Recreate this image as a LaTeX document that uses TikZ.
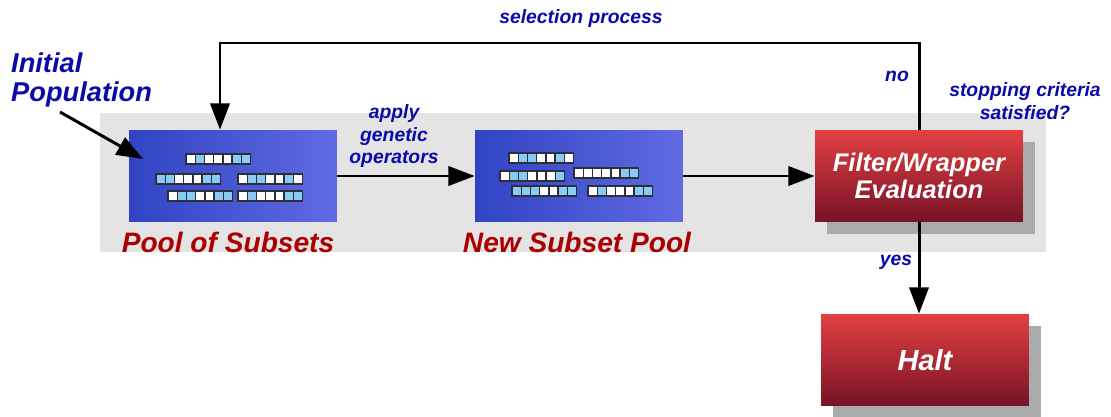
\documentclass[tikz,border=0pt]{standalone}
\usepackage{fontspec}
\setmainfont{Liberation Sans}
\usetikzlibrary{arrows.meta,shadows}
\usepackage{xcolor}

\definecolor{labelblue}{RGB}{10,10,170}
\definecolor{labelred}{RGB}{170,0,0}
\definecolor{bitblue}{RGB}{136,204,244}
\definecolor{bitedge}{RGB}{45,45,60}
\definecolor{poolleft}{RGB}{48,68,195}
\definecolor{poolright}{RGB}{96,106,226}
\definecolor{redtop}{RGB}{228,64,66}
\definecolor{redbottom}{RGB}{118,18,38}
\definecolor{shadowgray}{RGB}{170,170,170}
\definecolor{bggray}{RGB}{228,228,228}

% one string of feature bits: x, y, list of 0/1
\newcommand{\bitrow}[3]{%
  \foreach \bval [count=\i from 0] in {#3} {
    \ifnum\bval=1 \def\bitcol{bitblue}\else\def\bitcol{white}\fi
    \draw[bit, fill=\bitcol] ({#1+\i*9.2},#2) rectangle ++(9.2,10);
  }
}

\begin{document}
\begin{tikzpicture}[
    x = 0.02cm, y = -0.02cm,
    > = {Triangle[length=15pt,width=11pt]},
    flow/.style={->, line width=1.7pt},
    pool/.style={rectangle, minimum width=4.16cm, minimum height=1.84cm,
        inner sep=0pt, left color=poolleft, right color=poolright},
    evalbox/.style={rectangle, minimum width=4.16cm, minimum height=1.84cm,
        top color=redtop, bottom color=redbottom, text=white, align=center,
        font=\bfseries\itshape\fontsize{14.5}{15}\selectfont,
        drop shadow={shadow xshift=0.24cm, shadow yshift=-0.24cm,
            fill=shadowgray, opacity=1}},
    note/.style={text=labelblue, align=center,
        font=\bfseries\itshape\fontsize{11}{13}\selectfont},
    title/.style={text=labelred,
        font=\bfseries\itshape\fontsize{16}{19}\selectfont},
    bit/.style={draw=bitedge, line width=0.8pt}
]
\useasboundingbox (0,0) rectangle (1111,416);

% Background band
\fill[bggray] (100,113) rectangle (1046,252);

% Boxes
\node[pool] (pool) at (233,176) {};
\node[pool] (newpool) at (579,176) {};
\node[evalbox] (filter) at (919,176) {Filter/Wrapper\\Evaluation};
\node[evalbox, font=\bfseries\itshape\fontsize{16.5}{18}\selectfont] (halt) at (925,360) {Halt};

% Subsets in the pools
\bitrow{186}{154}{0,1,0,0,0,1,1}
\bitrow{156}{174}{1,1,0,0,0,1,1}
\bitrow{238}{174}{0,1,1,0,0,1,0}
\bitrow{168}{191}{0,1,1,0,0,1,1}
\bitrow{238}{191}{0,1,0,0,0,1,1}

\bitrow{509}{153}{0,1,1,0,0,1,0}
\bitrow{500}{171}{0,1,1,0,0,0,1}
\bitrow{574}{168}{0,0,0,0,0,1,1}
\bitrow{512}{186}{1,1,1,0,0,1,1}
\bitrow{588}{186}{0,1,0,0,0,1,1}

% Labels
\node[title] (poollabel) at (228,242) {Pool of Subsets};
\node[title] (newlabel) at (577,242) {New Subset Pool};
\node[note, anchor=west, align=left,
    font=\bfseries\itshape\fontsize{15.5}{17}\selectfont] (init) at (5,80) {Initial\\Population};
\node[note] (apply) at (394,136) {apply\\genetic\\operators};
\node[note] (sel) at (581,19) {selection process};
\node[note] (no) at (897,76) {no};
\node[note] (stop) at (1025,101) {stopping criteria\\satisfied?};
\node[note] (yes) at (896,262) {yes};

% Connectors
\coordinate (inittail) at (60,112);
\coordinate (inittip) at (143,159);
\coordinate (loopcorner) at (220,43);
\draw[flow] (inittail) -- (inittip);
\draw[flow] (pool) -- (newpool);
\draw[flow] (newpool) -- (filter);
\draw[flow] (filter) -- (filter |- halt.north);
\draw[flow] (filter.north) |- (loopcorner) -- (loopcorner |- pool.north);

\end{tikzpicture}
\end{document}
